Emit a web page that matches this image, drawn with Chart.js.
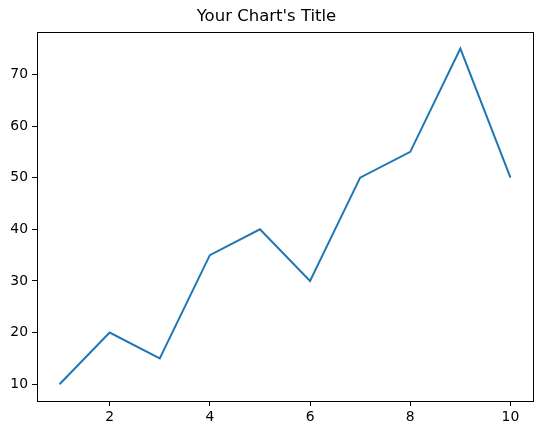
<!DOCTYPE html>
<html>
<head>
<meta charset="utf-8">
<script src="https://cdn.jsdelivr.net/npm/chart.js@4"></script>
<style>
  html, body { margin: 0; padding: 0; background: #fff; }
  canvas { display: block; }
</style>
</head>
<body>
<canvas id="lineChart" width="543" height="435"></canvas>
<script>
// values
const xValues = [1, 2, 3, 4, 5, 6, 7, 8, 9, 10];
const yValues = [10, 20, 15, 35, 40, 30, 50, 55, 75, 50];
const xTicks = [2, 4, 6, 8, 10];
const yTicks = [10, 20, 30, 40, 50, 60, 70];

const font = "'DejaVu Sans', sans-serif";

// black box around the plot, like matplotlib spines
const frame = {
    id: 'frame',
    afterDraw(chart) {
        const a = chart.chartArea;
        const ctx = chart.ctx;
        ctx.save();
        ctx.strokeStyle = '#000';
        ctx.lineWidth = 1;
        ctx.strokeRect(Math.round(a.left) + 0.5, Math.round(a.top) + 0.5,
            Math.round(a.right - a.left), Math.round(a.bottom - a.top));
        ctx.restore();
    }
};

const tickGrid = {
    drawOnChartArea: false,
    drawTicks: true,
    tickLength: 5,
    color: '#000',
    lineWidth: 1
};

new Chart(document.getElementById('lineChart'), {
    type: 'line',
    data: {
        datasets: [{
            data: xValues.map((x, i) => ({ x: x, y: yValues[i] })),
            borderColor: '#1f77b4',
            borderWidth: 2,
            pointRadius: 0,
            tension: 0,
            fill: false
        }]
    },
    plugins: [frame],
    options: {
        responsive: false,
        animation: false,
        devicePixelRatio: 1,
        layout: { padding: { left: 0, right: 10, top: 0, bottom: 0 } },
        plugins: {
            legend: { display: false },
            tooltip: { enabled: false },
            title: {
                display: true,
                text: "Your Chart's Title",
                color: '#000',
                font: { size: 16.5, family: font, weight: 'normal', lineHeight: 1.2 },
                padding: { top: 7, bottom: 5 }
            }
        },
        scales: {
            x: {
                type: 'linear',
                min: 0.55,
                max: 10.45,
                grid: tickGrid,
                border: { display: false },
                afterBuildTicks: s => { s.ticks = xTicks.map(v => ({ value: v })); },
                afterFit: s => { s.height = 34; },
                ticks: {
                    color: '#000',
                    autoSkip: false,
                    maxRotation: 0,
                    padding: 3,
                    font: { size: 13.9, family: font }
                }
            },
            y: {
                min: 6.75,
                max: 78.25,
                grid: tickGrid,
                border: { display: false },
                afterBuildTicks: s => { s.ticks = yTicks.map(v => ({ value: v })); },
                afterFit: s => { s.width = 37; },
                ticks: {
                    color: '#000',
                    autoSkip: false,
                    padding: 4,
                    font: { size: 13.9, family: font }
                }
            }
        }
    }
});
</script>
</body>
</html>
